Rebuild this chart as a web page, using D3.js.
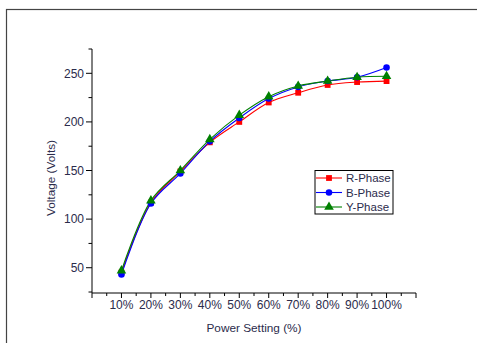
<!DOCTYPE html>
<html>
<head>
<meta charset="utf-8">
<script src="https://cdn.jsdelivr.net/npm/d3@7"></script>
<style>
  body { margin: 0; background: #fff; }
  text { font-family: "Liberation Sans", Arial, sans-serif; }
</style>
</head>
<body>
<svg id="chart" width="477" height="343"></svg>
<script>
// data
var settings = [10, 20, 30, 40, 50, 60, 70, 80, 90, 100];
var rPhase = [45, 117, 149, 179, 200, 220, 230, 238, 241, 242];
var bPhase = [43, 116, 147, 180, 204, 224, 236, 242, 246, 256];
var yPhase = [47, 119, 150, 182, 207, 226, 237, 242, 246, 247];
var yTicks = [50, 100, 150, 200, 250];

var series = [
  { name: "R-Phase", values: rPhase, color: "#ff0000", shape: d3.symbolSquare, size: 34 },
  { name: "B-Phase", values: bPhase, color: "#0000ff", shape: d3.symbolCircle, size: 34 },
  { name: "Y-Phase", values: yPhase, color: "#008000", shape: d3.symbolTriangle, size: 40 }
];

var svg = d3.select("#chart");
var textColor = "#2b2b4b";

// outer frame, runs off the right and bottom edges
svg.append("rect")
  .attr("x", 6.5).attr("y", 9.5)
  .attr("width", 500).attr("height", 400)
  .attr("fill", "none").attr("stroke", "#444").attr("stroke-width", 1.2);

var pLeft = 92, pRight = 416, pTop = 49, pBottom = 293;

var x = d3.scaleLinear().domain([0, 110]).range([pLeft, pRight]);
var y = d3.scaleLinear().domain([24, 275]).range([pBottom, pTop]);

// y axis
var gy = svg.append("g").attr("transform", "translate(" + pLeft + ",0)");
gy.append("line").attr("y1", pTop).attr("y2", pBottom).attr("stroke", "#000");
gy.selectAll(".minor").data(d3.range(25, 276, 25)).enter().append("line")
  .attr("x1", 0).attr("x2", d => yTicks.includes(d) ? -6 : -3.5)
  .attr("y1", d => y(d)).attr("y2", d => y(d))
  .attr("stroke", "#000");
gy.selectAll(".lab").data(yTicks).enter().append("text")
  .attr("x", -8).attr("y", d => y(d)).attr("dy", "0.35em")
  .attr("text-anchor", "end").attr("font-size", 12).attr("fill", textColor)
  .text(d => d);

// x axis
var gx = svg.append("g").attr("transform", "translate(0," + pBottom + ")");
gx.append("line").attr("x1", pLeft).attr("x2", pRight).attr("stroke", "#000");
gx.selectAll(".tick").data(d3.range(0, 111, 5)).enter().append("line")
  .attr("x1", d => x(d)).attr("x2", d => x(d))
  .attr("y1", 0).attr("y2", d => d % 10 === 0 ? 5 : 3)
  .attr("stroke", "#000");
gx.selectAll(".lab").data(settings).enter().append("text")
  .attr("x", d => x(d)).attr("y", 16)
  .attr("text-anchor", "middle").attr("font-size", 12).attr("fill", textColor)
  .text(d => d + "%");

// axis titles
svg.append("text")
  .attr("x", 254).attr("y", 331.5)
  .attr("text-anchor", "middle").attr("font-size", 11.8).attr("fill", textColor)
  .text("Power Setting (%)");
svg.append("text")
  .attr("transform", "translate(55,178) rotate(-90)")
  .attr("text-anchor", "middle").attr("font-size", 11.8).attr("fill", textColor)
  .text("Voltage (Volts)");

// lines and markers
var line = d3.line()
  .x((d, i) => x(settings[i]))
  .y(d => y(d))
  .curve(d3.curveCatmullRom);

series.forEach(function(s) {
  svg.append("path")
    .attr("d", line(s.values))
    .attr("fill", "none").attr("stroke", s.color).attr("stroke-width", 1.1);
});
series.forEach(function(s) {
  svg.selectAll(null).data(s.values).enter().append("path")
    .attr("transform", (d, i) => "translate(" + x(settings[i]) + "," + y(d) + ")")
    .attr("d", d3.symbol().type(s.shape).size(s.size))
    .attr("fill", s.color);
});

// legend
var lg = svg.append("g").attr("transform", "translate(315,170.5)");
lg.append("rect").attr("width", 78).attr("height", 43.5)
  .attr("fill", "#fff").attr("stroke", "#000").attr("stroke-width", 1);
series.forEach(function(s, i) {
  var cy = 7.5 + i * 14.5;
  lg.append("line").attr("x1", 1).attr("x2", 27).attr("y1", cy).attr("y2", cy)
    .attr("stroke", s.color).attr("stroke-width", 1.1);
  lg.append("path").attr("transform", "translate(14," + cy + ")")
    .attr("d", d3.symbol().type(s.shape).size(s.size)).attr("fill", s.color);
  lg.append("text").attr("x", 31).attr("y", cy).attr("dy", "0.35em")
    .attr("font-size", 11.5).attr("fill", textColor).text(s.name);
});
</script>
</body>
</html>
